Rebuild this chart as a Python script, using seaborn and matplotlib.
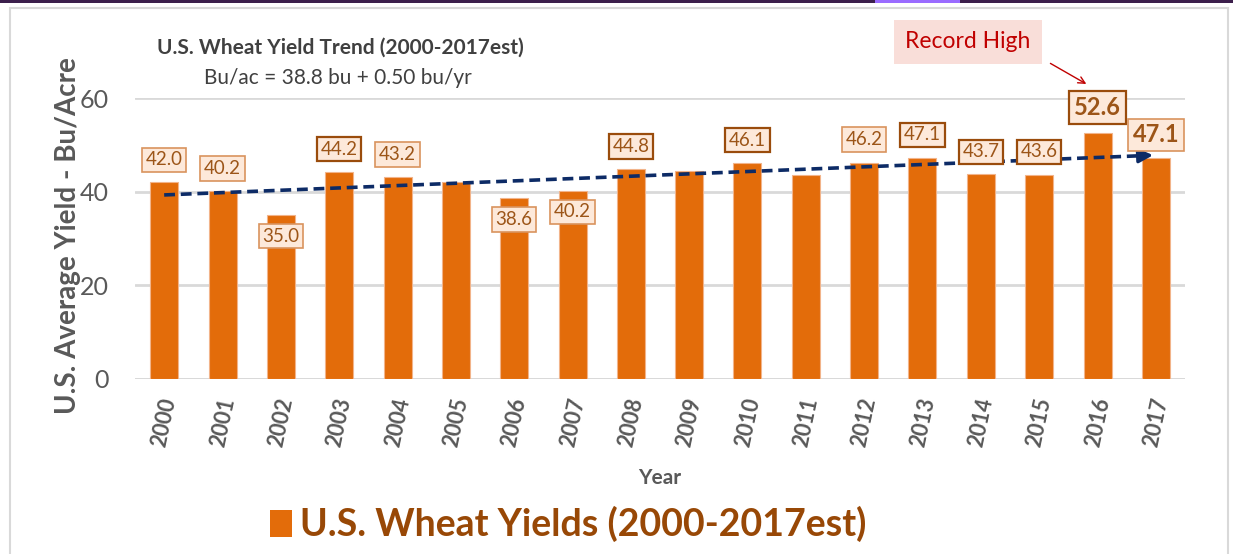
import matplotlib
matplotlib.use("Agg")
import matplotlib.pyplot as plt
from matplotlib.patches import Rectangle
import seaborn as sns
import pandas as pd

# ---- data -------------------------------------------------------------
years = [str(y) for y in range(2000, 2018)]
yields = [42.0, 40.2, 35.0, 44.2, 43.2, 42.0, 38.6, 40.2, 44.8, 44.5,
          46.1, 43.6, 46.2, 47.1, 43.7, 43.6, 52.6, 47.1]

# years carrying a value callout, and where each callout sits (bu/ac units)
label_years = ["2000", "2001", "2002", "2003", "2004", "2006", "2007", "2008",
               "2010", "2012", "2013", "2014", "2015", "2016", "2017"]
label_y = [46.8, 44.9, 30.5, 49.1, 47.9, 34.1, 35.7, 49.6,
           51.0, 51.1, 52.1, 48.5, 48.5, 58.0, 52.1]
dark_edge_years = {"2003", "2008", "2010", "2013", "2014", "2015", "2016"}
big_label_years = {"2016", "2017"}

trend_intercept = 38.8
trend_slope = 0.50

title = "U.S. Wheat Yield Trend (2000-2017est)"
subtitle = "Bu/ac = 38.8 bu + 0.50 bu/yr"
series_name = "U.S. Wheat Yields (2000-2017est)"

# ---- style ------------------------------------------------------------
sns.set_theme(style="white")
plt.rcParams["font.family"] = ["Lato", "DejaVu Sans"]

BAR = "#E36C0A"
LABEL_TXT = "#9C5518"
GRAY = "#595959"

W, H = 1233, 554
fig = plt.figure(figsize=(W / 100, H / 100), dpi=100)
fig.patch.set_facecolor("white")

def fx(px):
    return px / W

def fy(py):
    return 1 - py / H

# outer chart frame and top strip
fig.add_artist(Rectangle((fx(10), fy(554) - 0.01), fx(1218), fy(8) - fy(554) + 0.01,
                         transform=fig.transFigure, fill=False,
                         edgecolor="#D9D9D9", lw=1.5))
fig.add_artist(Rectangle((0, fy(3)), 1, 3 / H, transform=fig.transFigure,
                         facecolor="#3C1F4C", edgecolor="none"))
fig.add_artist(Rectangle((fx(875), fy(3)), fx(85), 3 / H, transform=fig.transFigure,
                         facecolor="#9A6BFF", edgecolor="none"))

ax = fig.add_axes([fx(135), fy(379), fx(1185) - fx(135), fy(98) - fy(379)])
ax.set_facecolor("none")

df = pd.DataFrame({"Year": years, "Yield": yields})
sns.barplot(data=df, x="Year", y="Yield", color=BAR, saturation=1, width=0.48,
            edgecolor="#F2B48A", linewidth=0.8, ax=ax, zorder=2)

ax.set_ylim(0, 60)
ax.set_xlim(-0.5, len(years) - 0.5)
ax.set_yticks([0, 20, 40, 60])
ax.yaxis.grid(True, color="#D9D9D9", lw=2, zorder=0)
ax.set_axisbelow(True)
for s in ax.spines.values():
    s.set_visible(False)
ax.axhline(0, color="#D9D9D9", lw=2, zorder=1)
ax.tick_params(axis="y", length=0, pad=19, labelsize=18, labelcolor=GRAY)
ax.tick_params(axis="x", length=0, pad=12, labelsize=15.5, labelcolor=GRAY)
for lab in ax.get_xticklabels():
    lab.set_rotation(78)
    lab.set_fontweight("bold")
    lab.set_ha("center")
    lab.set_va("top")

ax.set_xlabel("Year", fontsize=15, fontweight="bold", color=GRAY, labelpad=14)
ax.set_ylabel("")
fig.text(fx(68), fy(236), "U.S. Average Yield - Bu/Acre", rotation=90,
         ha="center", va="center", fontsize=20, fontweight="bold", color=GRAY)

# trend line (dashed) with arrow head at the last year
n = len(years)
tx = [0, n - 1]
ty = [trend_intercept + trend_slope * 1, trend_intercept + trend_slope * n]
ax.plot([tx[0], tx[1] - 0.15], [ty[0], ty[1] - 0.15 * trend_slope],
        color="#0D2B66", lw=2.6, ls=(0, (3, 1.6)), zorder=4, clip_on=False)
ax.annotate("", xy=(tx[1], ty[1]), xytext=(tx[1] - 0.3, ty[1] - 0.3 * trend_slope),
            arrowprops=dict(arrowstyle="-|>,head_length=0.7,head_width=0.35",
                            color="#0D2B66", lw=2.4), zorder=5)

# value callouts
pos = {y: i for i, y in enumerate(years)}
val = dict(zip(years, yields))
for yr, ly in zip(label_years, label_y):
    big = yr in big_label_years
    edge = "#9A4C0C" if yr in dark_edge_years else "#D9935E"
    ax.text(pos[yr], ly, f"{val[yr]:.1f}", ha="center", va="center",
            fontsize=17 if big else 13.5, fontweight="bold" if big else "normal",
            color=LABEL_TXT, zorder=6, clip_on=False,
            bbox=dict(boxstyle="square,pad=0.2", facecolor="#FDE9DA",
                      edgecolor=edge, lw=1.6 if yr in dark_edge_years else 1.2))

# title block
fig.text(fx(340), fy(48), title, ha="center", va="center", fontsize=15,
         fontweight="bold", color="#404040")
fig.text(fx(338), fy(78), subtitle, ha="center", va="center", fontsize=15,
         color="#404040")

# "Record High" callout
fig.text(fx(968), fy(42), "Record High", ha="center", va="center", fontsize=16.5,
         color="#C00000",
         bbox=dict(boxstyle="square,pad=0.5", facecolor="#F9DED9", edgecolor="none"))
ax.annotate("", xy=(pos["2016"] - 0.15, 58.0 + 4.7), xycoords="data",
            xytext=(fx(1048), fy(62)), textcoords="figure fraction",
            arrowprops=dict(arrowstyle="->", color="#C00000", lw=1), annotation_clip=False)

# legend
fig.add_artist(Rectangle((fx(270), fy(537)), fx(22), 27 / H, transform=fig.transFigure,
                         facecolor=BAR, edgecolor="none"))
fig.text(fx(300), fy(524), series_name, ha="left", va="center", fontsize=27,
         fontweight="bold", color="#984806")

fig.savefig("out.png", dpi=100)
